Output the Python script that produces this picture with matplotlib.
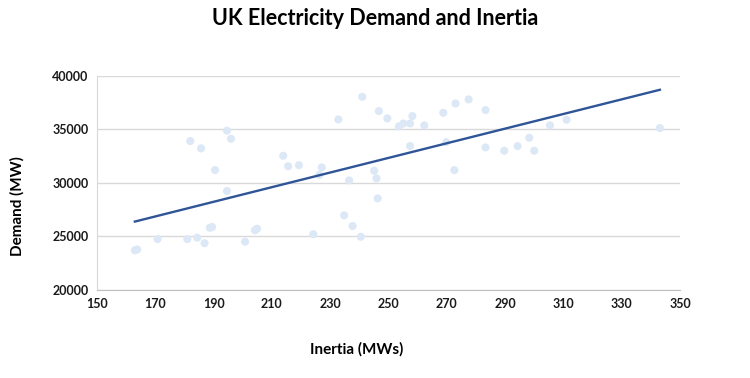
import numpy as np
import matplotlib.pyplot as plt

plt.rcParams['font.family'] = ['Lato', 'DejaVu Sans']

# inertia (MWs) and demand (MW)
inertia = [163.0, 163.8, 170.8, 181.0, 184.4, 186.9, 188.7, 189.5, 182.0, 185.7,
           190.5, 194.6, 196.0, 194.6, 200.8, 204.2, 204.9, 213.9, 215.6, 219.3,
           224.2, 227.1, 226.3, 232.8, 234.8, 236.5, 237.7, 240.5, 241.0, 245.1,
           245.9, 246.3, 246.7, 249.6, 253.6, 255.1, 257.4, 258.2, 257.4, 262.3,
           268.8, 269.8, 272.6, 273.0, 277.5, 283.3, 283.3, 289.7, 294.3, 298.3,
           300.0, 305.4, 311.1, 343.1]
demand = [23700, 23780, 24750, 24750, 24880, 24370, 25810, 25880, 33900, 33220,
          31200, 34870, 34110, 29240, 24510, 25570, 25720, 32530, 31550, 31650,
          25200, 31440, 30730, 35920, 26970, 30230, 25970, 24970, 38030, 31130,
          30420, 28550, 36700, 36020, 35280, 35540, 35540, 36230, 33440, 35360,
          36540, 33800, 31190, 37410, 37790, 36790, 33310, 33000, 33430, 34210,
          33000, 35360, 35890, 35110]

x_ticks = list(range(150, 351, 20))
y_ticks = list(range(20000, 40001, 5000))

fig = plt.figure(figsize=(7.5, 3.78), dpi=100)
ax = fig.add_axes([0.1293, 0.2328, 0.7773, 0.5669])

ax.scatter(inertia, demand, s=34, color='#DCE8F6', edgecolors='none', zorder=2)

# linear trendline
coef = np.polyfit(inertia, demand, 1)
xs = np.array([min(inertia), max(inertia)])
ax.plot(xs, np.polyval(coef, xs), color='#2F5597', lw=1.7, zorder=3)

ax.set_xlim(150, 350)
ax.set_ylim(20000, 40000)
ax.set_xticks(x_ticks)
ax.set_yticks(y_ticks)
ax.tick_params(length=0, labelsize=9, colors='#1a1a1a', pad=6)
for lab in ax.get_xticklabels() + ax.get_yticklabels():
    lab.set_fontweight('bold')
ax.grid(axis='y', color='#D9D9D9', lw=1, zorder=0)
ax.set_axisbelow(True)
for s in ['top', 'right']:
    ax.spines[s].set_visible(False)
ax.spines['left'].set_color('#D9D9D9')
ax.spines['bottom'].set_color('#BFBFBF')

fig.text(0.5, 0.952, 'UK Electricity Demand and Inertia', ha='center', va='center',
         fontsize=15.5, fontweight='bold')
fig.text(0.476, 0.075, 'Inertia (MWs)', ha='center', va='center',
         fontsize=11, fontweight='bold')
fig.text(0.023, 0.455, 'Demand (MW)', ha='center', va='center', rotation=90,
         fontsize=11, fontweight='bold')

fig.savefig('out.png', dpi=100)
